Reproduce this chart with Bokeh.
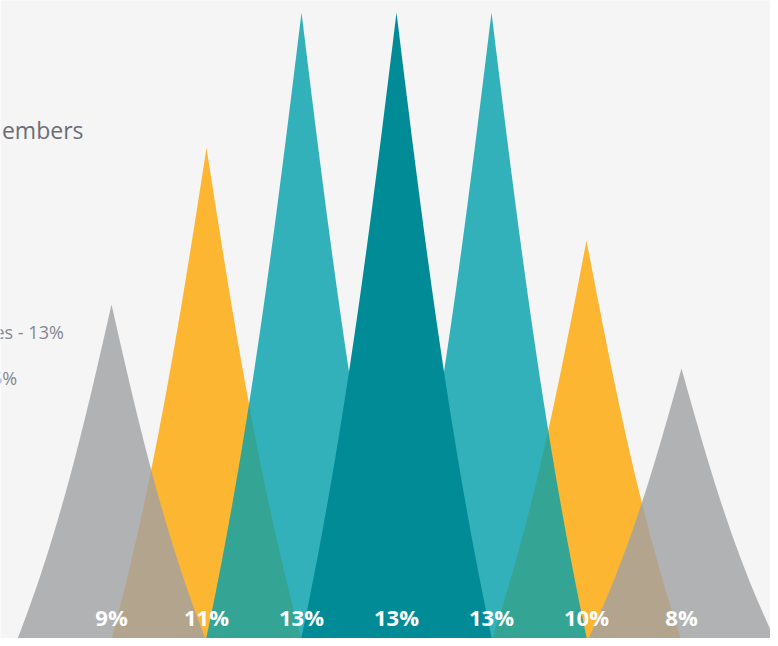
import numpy as np
from bokeh.plotting import figure
from bokeh.models import Range1d, Label, ColumnDataSource
from bokeh.embed import file_html
from bokeh.resources import INLINE
from bokeh.core.properties import value

# ---- data ----
positions = [0, 1, 2, 3, 4, 5, 6]
values = [8.9, 11.1, 13.0, 13.0, 13.0, 9.8, 8.0]
labels = ["9%", "11%", "13%", "13%", "13%", "10%", "8%"]
colors = ["#a0a1a4", "#fdb632", "#01a0ad", "#008b97", "#01a0ad", "#fdb632", "#a0a1a4"]
alphas = [0.8, 1.0, 0.8, 1.0, 0.8, 1.0, 0.8]
draw_order = [1, 5, 0, 6, 2, 4, 3]

# ---- style / layout ----
W, H = 770, 638
PX_PER_CAT = 95.0
PX_PER_UNIT = 71.2
Y_MIN = 4.096            # axis start (base of the spikes)
BASE_BELOW = 8.0         # base sits this many px below the frame bottom
HALF = 97.0 / PX_PER_CAT
x0 = -111.0 / PX_PER_CAT
y_lo = Y_MIN + BASE_BELOW / PX_PER_UNIT

p = figure(width=W, height=H, output_backend="svg", toolbar_location=None,
           x_range=Range1d(x0, x0 + W / PX_PER_CAT),
           y_range=Range1d(y_lo, y_lo + H / PX_PER_UNIT),
           min_border=0)
p.axis.visible = False
p.grid.visible = False
p.outline_line_color = None
p.background_fill_color = "#f5f5f5"
p.border_fill_color = "#f5f5f5"

u = np.linspace(0.0, 1.0, 80)
prof = 0.8 * u + 0.2 * u ** 3

for i in draw_order:
    c = positions[i]
    top = values[i]
    ys_side = top - u * (top - Y_MIN)
    xs = list(c - HALF * prof[::-1]) + list(c + HALF * prof)
    ys = list(ys_side[::-1]) + list(ys_side)
    p.patch(xs, ys, fill_color=colors[i], fill_alpha=alphas[i], line_color=None)

label_y = Y_MIN + 30.0 / PX_PER_UNIT
src = ColumnDataSource(dict(x=positions, y=[label_y] * len(positions), t=labels))
p.text(x="x", y="y", text="t", source=src,
       text_align="center", text_baseline="middle",
       text_font=value("Open Sans"), text_font_style="bold",
       text_font_size="22px", text_color="white")

p.add_layout(Label(x=83, y=508.5, x_units="screen", y_units="screen", text="embers",
                   text_align="right", text_baseline="alphabetic",
                   text_font="Open Sans", text_font_size="23px", text_color="#6b6e75"))
p.add_layout(Label(x=63.3, y=306.5, x_units="screen", y_units="screen", text="es - 13%",
                   text_align="right", text_baseline="alphabetic",
                   text_font="Open Sans", text_font_size="18px", text_color="#85888d"))
p.add_layout(Label(x=16.7, y=260.5, x_units="screen", y_units="screen", text="5%",
                   text_align="right", text_baseline="alphabetic",
                   text_font="Open Sans", text_font_size="18px", text_color="#85888d"))

open("out.html", "w").write(file_html(p, INLINE))
